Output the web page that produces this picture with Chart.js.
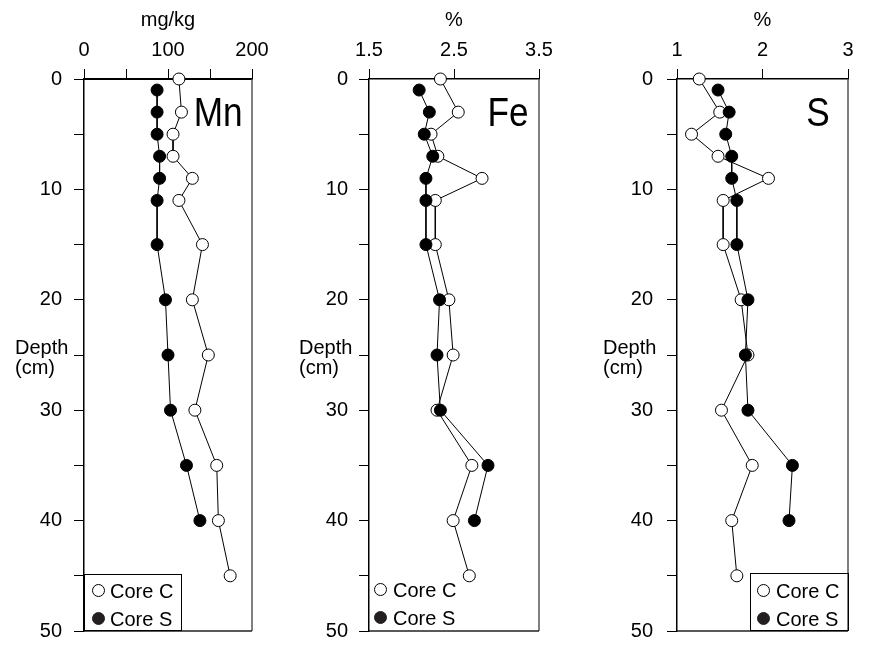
<!DOCTYPE html>
<html>
<head>
<meta charset="utf-8">
<script src="https://cdn.jsdelivr.net/npm/chart.js@4.4.0/dist/chart.umd.min.js"></script>
<style>
  body { margin: 0; background: #fff; font-family: 'Liberation Sans', Arial, sans-serif; color: #000; }
  #wrap { position: relative; width: 869px; height: 646px; overflow: hidden; }
  canvas { position: absolute; top: 0; }
  .elem { position: absolute; top: 92px; font-size: 40px; line-height: 40px; transform-origin: right top; transform: scaleX(0.88); }
  .depth { position: absolute; top: 337px; font-size: 20px; line-height: 20px; }
  .lg { position: absolute; box-sizing: border-box; }
  .mk { position: absolute; width: 13px; height: 13px; box-sizing: border-box; border-radius: 50%; border: 1px solid #000; }
  .mk.open { background: #fff; }
  .mk.fill { background: #231f20; border-color: #231f20; }
  .tx { position: absolute; font-size: 20px; line-height: 20px; white-space: nowrap; }
</style>
</head>
<body>
<div id="wrap">
  <canvas id="mn" width="290" height="646" style="left:0px"></canvas>
  <canvas id="fe" width="290" height="646" style="left:290px"></canvas>
  <canvas id="s" width="289" height="646" style="left:580px"></canvas>

  <div class="elem" style="right:626px">Mn</div>
  <div class="elem" style="right:340px">Fe</div>
  <div class="elem" style="right:39px">S</div>

  <div class="depth" style="left:15px">Depth<br>(cm)</div>
  <div class="depth" style="left:299px">Depth<br>(cm)</div>
  <div class="depth" style="left:603px">Depth<br>(cm)</div>

  <div class="lg" style="left:84px;top:574px;width:98px;height:57px;border:1px solid #000">
    <span class="mk open" style="left:7px;top:9px"></span><span class="tx" style="left:25px;top:6px">Core C</span>
    <span class="mk fill" style="left:7px;top:37px"></span><span class="tx" style="left:25px;top:34px">Core S</span>
  </div>
  <div class="lg" style="left:369px;top:574px;width:98px;height:57px">
    <span class="mk open" style="left:5px;top:9px"></span><span class="tx" style="left:24px;top:6px">Core C</span>
    <span class="mk fill" style="left:5px;top:37px"></span><span class="tx" style="left:24px;top:34px">Core S</span>
  </div>
  <div class="lg" style="left:750px;top:573px;width:99px;height:58px;border:1px solid #000">
    <span class="mk open" style="left:6px;top:10px"></span><span class="tx" style="left:25px;top:7px">Core C</span>
    <span class="mk fill" style="left:6px;top:38px"></span><span class="tx" style="left:25px;top:35px">Core S</span>
  </div>
</div>

<script>
// depths (cm)
const depthC = [0, 3, 5, 7, 9, 11, 15, 20, 25, 30, 35, 40, 45]
const depthS = [1, 3, 5, 7, 9, 11, 15, 20, 25, 30, 35, 40]

// Mn mg/kg
const mnC = [113, 116, 106, 106, 129, 113, 141, 129, 148, 132, 158, 160, 174]
const mnS = [87, 87, 87, 90, 90, 87, 87, 97, 100, 103, 122, 138]

// Fe %
const feC = [2.34, 2.55, 2.23, 2.31, 2.83, 2.28, 2.28, 2.44, 2.49, 2.30, 2.71, 2.49, 2.68]
const feS = [2.09, 2.21, 2.15, 2.25, 2.17, 2.17, 2.17, 2.33, 2.30, 2.34, 2.90, 2.74]

// S %
const sC = [1.26, 1.50, 1.17, 1.48, 2.07, 1.54, 1.54, 1.75, 1.83, 1.52, 1.88, 1.64, 1.70]
const sS = [1.48, 1.61, 1.57, 1.64, 1.64, 1.70, 1.70, 1.83, 1.80, 1.83, 2.35, 2.31]

const depthTicks = [0, 10, 20, 30, 40, 50]
const font = 'Liberation Sans, Arial, sans-serif'

function pairs(vals, depths) {
    return vals.map((v, i) => ({x: v, y: depths[i]}))
}

// right + bottom edge of the plot box
const frame = {
    id: 'frame',
    beforeDatasetsDraw(chart) {
        const {ctx, chartArea: a} = chart
        ctx.save()
        ctx.lineWidth = 1.5
        ctx.strokeStyle = '#555'
        ctx.beginPath(); ctx.moveTo(a.right, a.top); ctx.lineTo(a.right, a.bottom); ctx.stroke()
        ctx.strokeStyle = '#222'
        ctx.beginPath(); ctx.moveTo(a.left, a.bottom); ctx.lineTo(a.right, a.bottom); ctx.stroke()
        ctx.restore()
    }
}

function makePanel(id, p) {
    new Chart(document.getElementById(id), {
        type: 'scatter',
        data: {
            datasets: [{
                label: 'Core C',
                data: pairs(p.c, depthC),
                showLine: true,
                borderColor: '#000',
                borderWidth: 1,
                pointRadius: 6,
                pointBorderWidth: 1,
                pointBackgroundColor: '#fff',
                pointBorderColor: '#000',
                clip: false,
                order: 1
            }, {
                label: 'Core S',
                data: pairs(p.s, depthS),
                showLine: true,
                borderColor: '#000',
                borderWidth: 1,
                pointRadius: 6,
                pointBorderWidth: 1,
                pointBackgroundColor: '#000',
                pointBorderColor: '#000',
                clip: false,
                order: 0
            }]
        },
        options: {
            responsive: false,
            animation: false,
            events: [],
            layout: {padding: {left: 0, top: 0, right: p.padRight, bottom: 15}},
            plugins: {legend: {display: false}, tooltip: {enabled: false}},
            scales: {
                x: {
                    type: 'linear',
                    position: 'top',
                    min: p.min,
                    max: p.max,
                    ticks: {
                        stepSize: p.step,
                        autoSkip: false,
                        maxRotation: 0,
                        color: '#000',
                        padding: 7,
                        font: {family: font, size: 20},
                        callback: v => p.labels.includes(v) ? String(v) : ''
                    },
                    grid: {drawOnChartArea: false, drawTicks: true, tickLength: 10, color: '#000', lineWidth: 1},
                    border: {display: true, color: '#000', width: p.topWidth},
                    title: {display: true, text: p.unit, color: '#000', font: {family: font, size: 20}, padding: {top: 8, bottom: 0}},
                    afterFit: s => { s.height = 79 }
                },
                y: {
                    type: 'linear',
                    position: 'left',
                    min: 0,
                    max: 50,
                    reverse: true,
                    ticks: {
                        stepSize: 5,
                        autoSkip: false,
                        color: '#000',
                        padding: p.yPad,
                        font: {family: font, size: 20},
                        callback: v => depthTicks.includes(v) ? String(v) : ''
                    },
                    grid: {drawOnChartArea: false, drawTicks: true, tickLength: 10, color: '#000', lineWidth: 1},
                    border: {display: true, color: '#000', width: 1.5},
                    afterFit: s => {
                        s.width = p.yWidth
                        // keep label overhang from shrinking the plot box
                        s.paddingTop = 0
                        s.paddingBottom = 0
                    }
                }
            }
        },
        plugins: [frame]
    })
}

makePanel('mn', {c: mnC, s: mnS, min: 0, max: 200, step: 50, labels: [0, 100, 200], unit: 'mg/kg',
    yWidth: 84, padRight: 38, yPad: 12, topWidth: 2})
makePanel('fe', {c: feC, s: feS, min: 1.5, max: 3.5, step: 1, labels: [1.5, 2.5, 3.5], unit: '%',
    yWidth: 79, padRight: 41, yPad: 11, topWidth: 1.5})
makePanel('s', {c: sC, s: sS, min: 1, max: 3, step: 1, labels: [1, 2, 3], unit: '%',
    yWidth: 97, padRight: 21, yPad: 14, topWidth: 1.5})
</script>
</body>
</html>
